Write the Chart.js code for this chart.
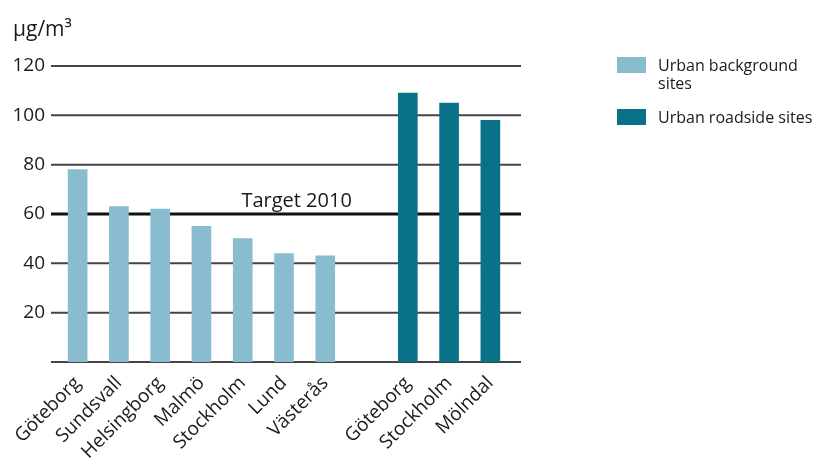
<!DOCTYPE html>
<html>
<head>
<meta charset="utf-8">
<script src="https://cdn.jsdelivr.net/npm/chart.js@4"></script>
<style>
  html, body { margin: 0; padding: 0; background: #fff; }
  #wrap { width: 825px; height: 468px; }
</style>
</head>
<body>
<div id="wrap"><canvas id="chart" width="825" height="468"></canvas></div>
<script>
// Data
const sites = ['Göteborg', 'Sundsvall', 'Helsingborg', 'Malmö', 'Stockholm', 'Lund', 'Västerås', '', 'Göteborg', 'Stockholm', 'Mölndal'];
const backgroundValues = [78, 63, 62, 55, 50, 44, 43, null, null, null, null];
const roadsideValues = [null, null, null, null, null, null, null, null, 109, 105, 98];
const yTicks = [20, 40, 60, 80, 100, 120];
const targetValue = 60;

const FONT = '"Open Sans", sans-serif';
const LIGHT = '#89bccf';
const DARK = '#0a7288';

// gridlines drawn a little wider than the chart area, like the original
const gridPlugin = {
  id: 'grid',
  beforeDatasetsDraw(chart) {
    const { ctx, chartArea, scales } = chart;
    ctx.save();
    [0].concat(yTicks).forEach(v => {
      const y = scales.y.getPixelForValue(v);
      ctx.beginPath();
      ctx.lineWidth = v === targetValue ? 3 : 2;
      ctx.strokeStyle = v === targetValue ? '#111' : '#444';
      ctx.moveTo(chartArea.left - 6, y);
      ctx.lineTo(chartArea.right + 10, y);
      ctx.stroke();
    });
    ctx.restore();
  },
  afterDraw(chart) {
    const { ctx, scales } = chart;
    ctx.save();
    // unit
    ctx.fillStyle = '#1a1a1a';
    ctx.font = '21px ' + FONT;
    ctx.textBaseline = 'middle';
    ctx.textAlign = 'left';
    ctx.fillText('µg/m³', 13, 30);

    // target label
    const x = (scales.x.getPixelForValue(5) + scales.x.getPixelForValue(6)) / 2 - 8;
    ctx.font = '20px ' + FONT;
    ctx.textAlign = 'center';
    ctx.textBaseline = 'alphabetic';
    ctx.fillText('Target 2010', x, scales.y.getPixelForValue(targetValue) - 7);

    // legend
    const items = [
      { color: LIGHT, lines: ['Urban background', 'sites'], top: 57 },
      { color: DARK, lines: ['Urban roadside sites'], top: 109 }
    ];
    ctx.font = '16px ' + FONT;
    ctx.textAlign = 'left';
    ctx.textBaseline = 'middle';
    items.forEach(it => {
      ctx.fillStyle = it.color;
      ctx.fillRect(617, it.top, 29, 16);
      ctx.fillStyle = '#1a1a1a';
      it.lines.forEach((t, i) => ctx.fillText(t, 658, it.top + 9 + i * 18));
    });
    ctx.restore();
  }
};

new Chart(document.getElementById('chart'), {
  type: 'bar',
  data: {
    labels: sites,
    datasets: [
      { label: 'Urban background sites', data: backgroundValues, backgroundColor: LIGHT },
      { label: 'Urban roadside sites', data: roadsideValues, backgroundColor: DARK }
    ]
  },
  options: {
    responsive: false,
    animation: false,
    layout: { padding: { top: 66, left: 0, right: 314, bottom: 0 } },
    datasets: { bar: { grouped: false, barThickness: 19, skipNull: true } },
    plugins: {
      legend: { display: false },
      tooltip: { enabled: false }
    },
    scales: {
      x: {
        grid: { display: false },
        border: { display: false },
        ticks: {
          color: '#1a1a1a',
          font: { family: FONT, size: 19 },
          minRotation: 45,
          maxRotation: 45,
          autoSkip: false,
          padding: 2
        },
        afterFit: s => { s.height = 106; }
      },
      y: {
        min: 0,
        max: 120,
        grid: { display: false, drawTicks: false },
        border: { display: false },
        ticks: {
          stepSize: 20,
          color: '#1a1a1a',
          font: { family: FONT, size: 19 },
          padding: 12,
          callback: v => (v === 0 ? '' : v)
        },
        afterFit: s => { s.width = 57; }
      }
    }
  },
  plugins: [gridPlugin]
});
</script>
</body>
</html>
